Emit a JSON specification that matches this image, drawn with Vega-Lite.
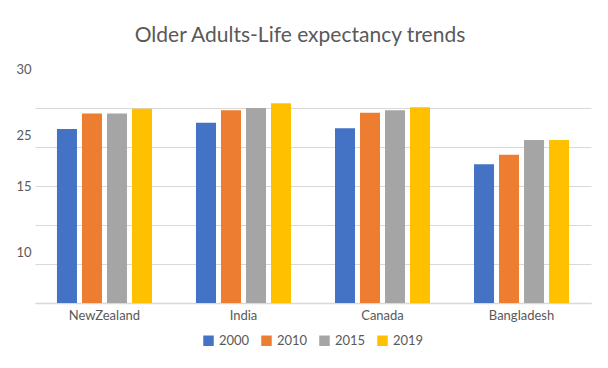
{
  "$schema": "https://vega.github.io/schema/vega-lite/v6.json",
  "width": 556,
  "height": 234,
  "autosize": {"type": "none"},
  "padding": {"left": 35, "top": 69, "right": 17, "bottom": 65},
  "background": "white",
  "title": {
    "text": "Older Adults-Life expectancy trends",
    "font": "Lato",
    "fontSize": 21,
    "fontWeight": "normal",
    "color": "#595959",
    "anchor": "middle",
    "dx": -13,
    "offset": 17
  },
  "data": {
    "values": [
      {"country": "NewZealand", "year": "2000", "value": 22.3},
      {"country": "NewZealand", "year": "2010", "value": 24.3},
      {"country": "NewZealand", "year": "2015", "value": 24.3},
      {"country": "NewZealand", "year": "2019", "value": 24.9},
      {"country": "India", "year": "2000", "value": 23.1},
      {"country": "India", "year": "2010", "value": 24.7},
      {"country": "India", "year": "2015", "value": 25.0},
      {"country": "India", "year": "2019", "value": 25.6},
      {"country": "Canada", "year": "2000", "value": 22.4},
      {"country": "Canada", "year": "2010", "value": 24.4},
      {"country": "Canada", "year": "2015", "value": 24.7},
      {"country": "Canada", "year": "2019", "value": 25.1},
      {"country": "Bangladesh", "year": "2000", "value": 17.8},
      {"country": "Bangladesh", "year": "2010", "value": 19.0},
      {"country": "Bangladesh", "year": "2015", "value": 20.9},
      {"country": "Bangladesh", "year": "2019", "value": 20.9}
    ]
  },
  "mark": {"type": "bar"},
  "encoding": {
    "x": {
      "field": "country",
      "type": "nominal",
      "sort": null,
      "scale": {"paddingInner": 0.3165, "paddingOuter": 0.158},
      "axis": {
        "title": null,
        "labelAngle": 0,
        "labelFont": "Lato",
        "labelFontSize": 13,
        "labelColor": "#595959",
        "labelPadding": 6,
        "ticks": false,
        "domainColor": "#D9D9D9",
        "domainWidth": 1.5,
        "grid": false
      }
    },
    "xOffset": {
      "field": "year",
      "type": "nominal",
      "scale": {"paddingInner": 0.2, "paddingOuter": 0}
    },
    "y": {
      "field": "value",
      "type": "quantitative",
      "scale": {"domain": [0, 30], "nice": false, "zero": true},
      "axis": {
        "title": null,
        "values": [0, 5, 6.5, 10, 15, 20, 21.5, 25, 30],
        "labelExpr": "datum.value == 30 ? '30' : datum.value == 21.5 ? '25' : datum.value == 15 ? '15' : datum.value == 6.5 ? '10' : ''",
        "labelOverlap": false,
        "labelFont": "Lato",
        "labelFontSize": 13,
        "labelColor": "#595959",
        "labelPadding": 4,
        "ticks": false,
        "domain": false,
        "grid": true,
        "gridColor": "#D9D9D9",
        "gridWidth": 1,
        "gridOpacity": {"condition": {"test": "datum.value % 5 == 0 && datum.value <= 25", "value": 1}, "value": 0}
      }
    },
    "color": {
      "field": "year",
      "type": "nominal",
      "scale": {
        "domain": ["2000", "2010", "2015", "2019"],
        "range": ["#4472C4", "#ED7D31", "#A5A5A5", "#FFC000"]
      },
      "legend": {
        "title": null,
        "orient": "bottom",
        "direction": "horizontal",
        "symbolType": "square",
        "symbolSize": 110,
        "symbolStrokeWidth": 0,
        "labelFont": "Lato",
        "labelFontSize": 13,
        "labelColor": "#595959",
        "columnPadding": 10,
        "offset": 12
      }
    }
  },
  "config": {
    "view": {"stroke": null},
    "legend": {"layout": {"bottom": {"anchor": "middle"}}}
  }
}
